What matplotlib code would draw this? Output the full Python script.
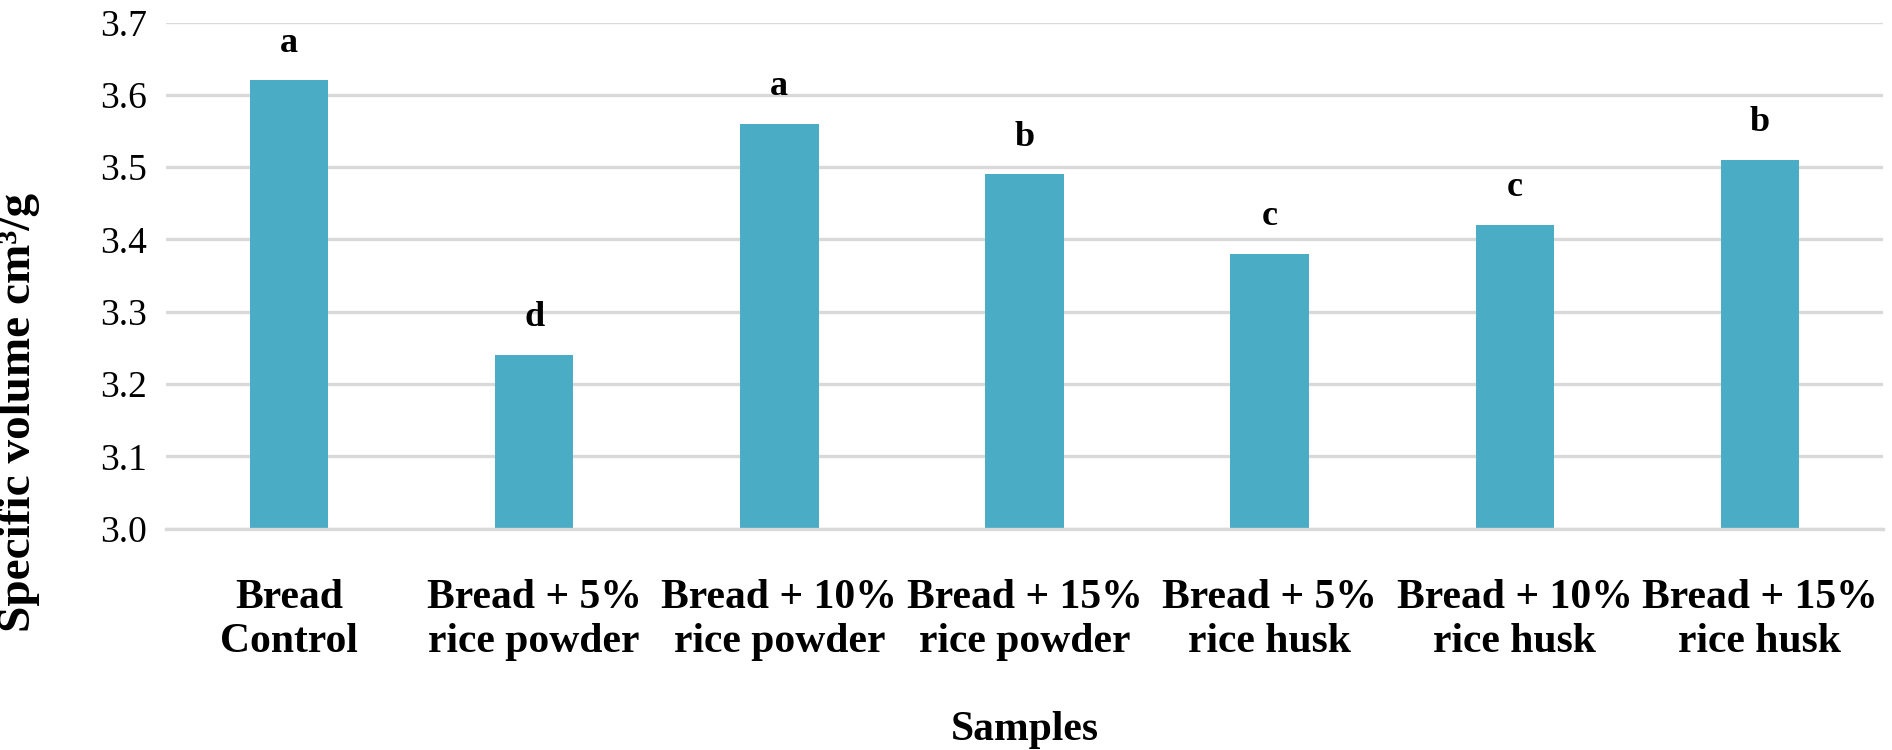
import matplotlib.pyplot as plt

samples = ["Bread\nControl", "Bread + 5%\nrice powder", "Bread + 10%\nrice powder",
           "Bread + 15%\nrice powder", "Bread + 5%\nrice husk", "Bread + 10%\nrice husk",
           "Bread + 15%\nrice husk"]
specific_volume = [3.62, 3.24, 3.56, 3.49, 3.38, 3.42, 3.51]
letters = ["a", "d", "a", "b", "c", "c", "b"]
yticks = [3.0, 3.1, 3.2, 3.3, 3.4, 3.5, 3.6, 3.7]

plt.rcParams['font.family'] = ['Liberation Serif', 'DejaVu Serif']

fig = plt.figure(figsize=(18.92, 7.5), dpi=100)
ax = fig.add_axes([0.088, 0.295, 0.907, 0.675])

x = range(len(samples))
ax.bar(x, specific_volume, width=0.32, color='#4BACC6', zorder=3)

# significance letters above each bar
for i, (v, l) in enumerate(zip(specific_volume, letters)):
    ax.annotate(l, (i, v), xytext=(0, 15), textcoords='offset points',
                ha='center', va='bottom', fontsize=26, fontweight='bold')

ax.set_ylim(3.0, 3.7)
ax.set_xlim(-0.5, len(samples) - 0.5)
ax.set_yticks(yticks)
ax.set_yticklabels([f"{t:.1f}" for t in yticks], fontsize=27)
ax.set_xticks(list(x))
ax.set_xticklabels(samples, fontsize=30, fontweight='bold')
ax.tick_params(axis='both', length=0)
ax.tick_params(axis='x', pad=36)
ax.tick_params(axis='y', pad=14)

ax.grid(axis='y', color='#d9d9d9', linewidth=2.4, zorder=0)
ax.axhline(3.0, color='#d9d9d9', linewidth=2.4, zorder=4, clip_on=False)
for s in ax.spines.values():
    s.set_visible(False)

ax.set_ylabel("Specific volume cm³/g", fontsize=34, fontweight='bold')
ax.yaxis.set_label_coords(-0.074, 0.23)
ax.set_xlabel("Samples", fontsize=30, fontweight='bold', labelpad=36)

fig.savefig("out.png", dpi=100)
